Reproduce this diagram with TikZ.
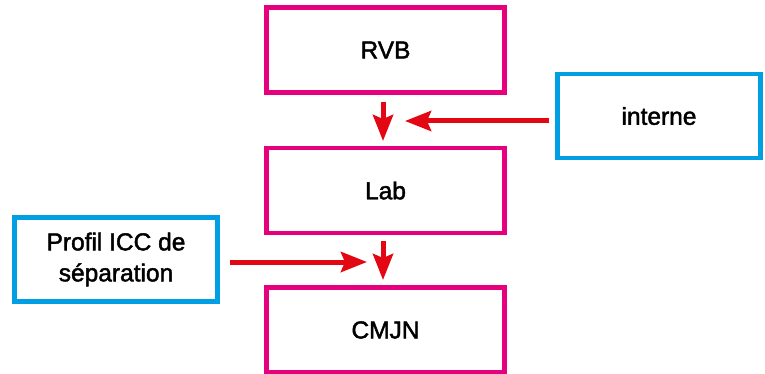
\documentclass[tikz,border=0pt]{standalone}
\usepackage{fontspec}
\setmainfont{Liberation Sans}
\newfontfamily\medfont{Liberation Sans}[FakeBold=1.8]
\usetikzlibrary{arrows.meta}
\definecolor{pinkc}{HTML}{E6007E}
\definecolor{bluec}{HTML}{009FE3}
\definecolor{redc}{HTML}{E30613}
\begin{document}
\begin{tikzpicture}[x=1pt,y=-1pt,
  pinkbox/.style={draw=pinkc,line width=4.5pt,minimum width=238pt,minimum height=85pt,inner sep=0pt,font=\medfont\fontsize{24.5}{31}\selectfont,align=center},
  bluebox/.style={draw=bluec,line width=4.5pt,minimum width=203pt,minimum height=84pt,inner sep=0pt,font=\medfont\fontsize{24.5}{31}\selectfont,align=center},
  redarrow/.style={draw=redc,line width=5pt,-{Stealth[length=26pt,width=20pt,inset=4pt]}}]
\useasboundingbox (0,0) rectangle (765,374);
\node[pinkbox] (rvb) at (385.5,50) {RVB};
\node[pinkbox] (lab) at (385.5,190.5) {Lab};
\node[pinkbox] (cmjn) at (385.5,330) {CMJN};
\node[bluebox] (int) at (659,116) {interne};
\node[bluebox] (prof) at (116,259.5) {Profil ICC de\\séparation};
\coordinate (a1s) at (383,102);
\coordinate (a1e) at (383,141);
\coordinate (a2e) at (405,121);
\coordinate (a3s) at (383,241);
\coordinate (a3e) at (383,280);
\coordinate (a4e) at (367,262);
\draw[redarrow] (a1s) -- (a1e);
\draw[redarrow] (int.west |- a2e) ++(-6,0) -- (a2e);
\draw[redarrow] (a3s) -- (a3e);
\draw[redarrow] (prof.east |- a4e) ++(10,0) -- (a4e);
\end{tikzpicture}
\end{document}
